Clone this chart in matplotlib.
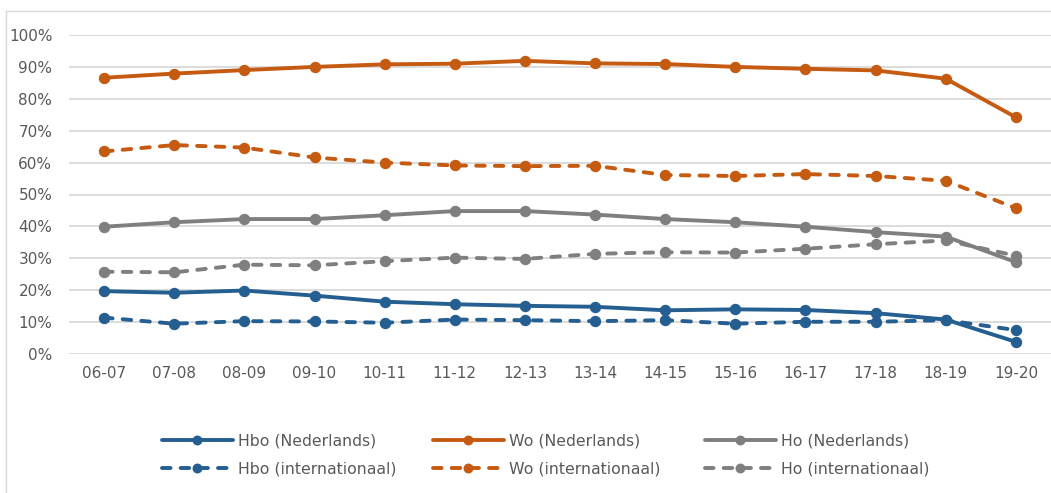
import matplotlib
matplotlib.use("Agg")
import matplotlib.pyplot as plt
from matplotlib.lines import Line2D

years = ["06-07", "07-08", "08-09", "09-10", "10-11", "11-12", "12-13",
         "13-14", "14-15", "15-16", "16-17", "17-18", "18-19", "19-20"]

hbo_nl = [19.7, 19.2, 19.9, 18.3, 16.4, 15.6, 15.1, 14.8, 13.7, 14.0, 13.8, 12.8, 10.8, 3.8]
hbo_int = [11.4, 9.5, 10.3, 10.2, 9.8, 10.8, 10.6, 10.3, 10.6, 9.5, 10.1, 10.1, 10.6, 7.5]
wo_nl = [86.6, 87.9, 89.0, 90.0, 90.8, 91.0, 91.9, 91.1, 90.9, 90.0, 89.4, 88.9, 86.3, 74.2]
wo_int = [63.5, 65.5, 64.7, 61.6, 60.0, 59.1, 58.9, 59.0, 56.1, 55.8, 56.4, 55.8, 54.3, 45.7]
ho_nl = [39.9, 41.3, 42.3, 42.3, 43.5, 44.8, 44.8, 43.7, 42.3, 41.3, 39.9, 38.2, 36.8, 28.8]
ho_int = [25.8, 25.6, 28.0, 27.8, 29.1, 30.2, 29.8, 31.4, 31.9, 31.8, 33.0, 34.4, 35.6, 30.8]

labels_nl = ["Hbo (Nederlands)", "Wo (Nederlands)", "Ho (Nederlands)"]
labels_int = ["Hbo (internationaal)", "Wo (internationaal)", "Ho (internationaal)"]
yticks = [0, 10, 20, 30, 40, 50, 60, 70, 80, 90, 100]

BLUE = "#255E91"
ORANGE = "#C55A11"
GRAY = "#7F7F7F"
TXT = "#595959"
GRID = "#D9D9D9"

W, H = 1051, 493
fig = plt.figure(figsize=(W / 100, H / 100), dpi=100)
fig.patch.set_facecolor("white")

ax = fig.add_axes([69 / W, 1 - 354 / H, 982 / W, 319 / H])
x = list(range(len(years)))

lw = 2.8
ms = 7.2
dash = (0, (2.2, 2.6))

series = [
    (hbo_nl, hbo_int, BLUE, 0),
    (wo_nl, wo_int, ORANGE, 1),
    (ho_nl, ho_int, GRAY, 2),
]
handles = []
for nl, intl, col, i in series:
    l1, = ax.plot(x, nl, color=col, lw=lw, marker="o", ms=ms,
                  solid_capstyle="round", label=labels_nl[i], zorder=3)
    l2, = ax.plot(x, intl, color=col, lw=lw, marker="o", ms=ms, linestyle=dash,
                  dash_capstyle="round", label=labels_int[i], zorder=3)
    handles.append((l1, l2))

ax.set_xlim(-0.5, len(years) - 0.5)
ax.set_ylim(0, 100)
ax.set_yticks(yticks)
ax.set_yticklabels([f"{v}%" for v in yticks])
ax.set_xticks(x)
ax.set_xticklabels(years)
ax.tick_params(axis="both", length=0, labelsize=11, labelcolor=TXT)
ax.tick_params(axis="y", pad=12)
ax.tick_params(axis="x", pad=9)
for s in ax.spines.values():
    s.set_visible(False)
ax.yaxis.grid(True, color=GRID, lw=1.3)
ax.set_axisbelow(True)

# outer chart frame (top and left edges)
fig.add_artist(Line2D([5.5 / W, 1.0], [1 - 11 / H, 1 - 11 / H], color=GRID, lw=1.0))
fig.add_artist(Line2D([5.5 / W, 5.5 / W], [0, 1 - 11 / H], color=GRID, lw=1.0))

xs = [162, 433, 705]
for (h1, h2), i, xp in zip(handles, range(3), xs):
    fig.legend([h1, h2], [labels_nl[i], labels_int[i]], loc="upper left",
               bbox_to_anchor=(xp / W, 1 - 433 / H), frameon=False,
               borderpad=0, borderaxespad=0, handlelength=4.5,
               handletextpad=0.35, labelspacing=0.88, fontsize=11.3,
               markerscale=0.85, labelcolor=TXT)

fig.savefig("out.png", dpi=100, facecolor="white")
